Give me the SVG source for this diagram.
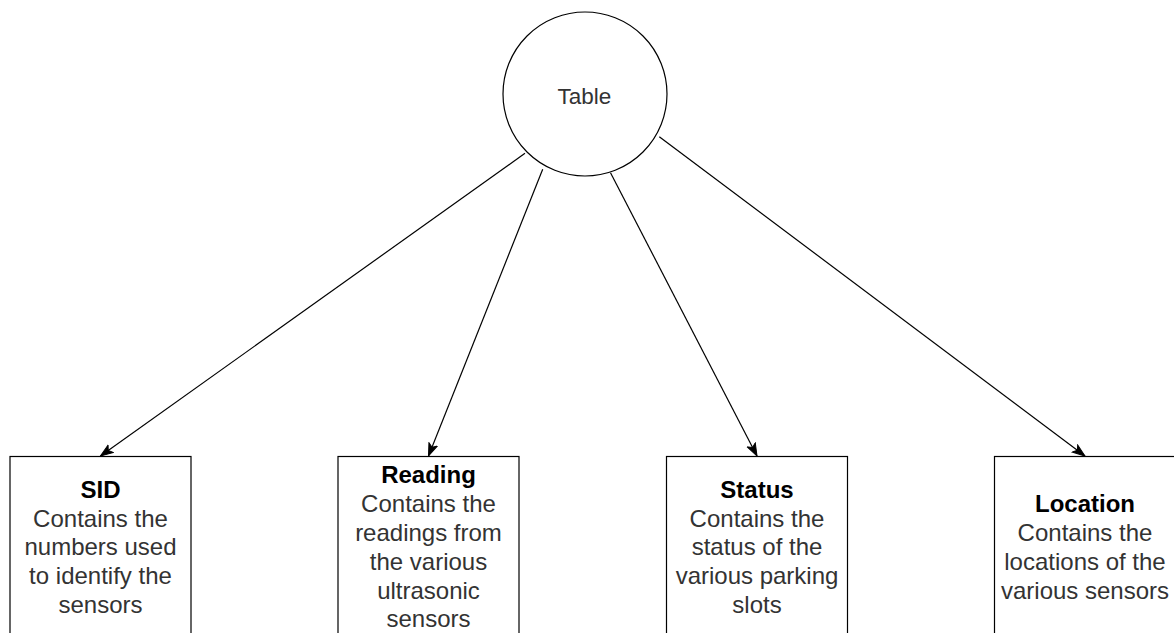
<svg xmlns="http://www.w3.org/2000/svg" width="1174" height="633" viewBox="0 0 1174 633">
<style>
.node{fill:#fff;stroke:#000;stroke-width:1.2}
.edge{fill:none;stroke:#000;stroke-width:1.2}
text{font-family:"Liberation Sans",Arial,sans-serif;font-size:24px;text-anchor:middle}
.t{font-weight:bold;fill:#000}
.b{fill:#333}
</style>
<defs>
<marker id="arr" markerUnits="userSpaceOnUse" markerWidth="14" markerHeight="12" viewBox="0 0 14 12" refX="13" refY="6" orient="auto">
<path d="M0.5,1.5 L13,6 L0.5,10.5 L3.5,6 Z" fill="#000" stroke="#000" stroke-width="1"/>
</marker>
</defs>
<rect width="1174" height="633" fill="#fff"/>
<g id="connectors">
<line class="edge" x1="525" y1="153.3" x2="100.5" y2="456" marker-end="url(#arr)"/>
<line class="edge" x1="542.7" y1="169.3" x2="428.5" y2="456" marker-end="url(#arr)"/>
<line class="edge" x1="610.5" y1="172.7" x2="757" y2="456" marker-end="url(#arr)"/>
<line class="edge" x1="659.3" y1="136.7" x2="1085" y2="456" marker-end="url(#arr)"/>
</g>
<g id="table">
<circle class="node" cx="585" cy="94" r="82"/>
<text class="b" x="584.5" y="103.5" style="font-size:22.5px">Table</text>
</g>
<g id="sid">
<rect class="node" x="10" y="456.5" width="181" height="190"/>
<text x="100.5" y="497.7"><tspan class="t">SID</tspan><tspan class="b" x="100.5" dy="28.8">Contains the</tspan><tspan class="b" x="100.5" dy="28.8">numbers used</tspan><tspan class="b" x="100.5" dy="28.8">to identify the</tspan><tspan class="b" x="100.5" dy="28.8">sensors</tspan></text>
</g>
<g id="reading">
<rect class="node" x="338" y="456.5" width="181" height="190"/>
<text x="428.5" y="483.3"><tspan class="t">Reading</tspan><tspan class="b" x="428.5" dy="28.8">Contains the</tspan><tspan class="b" x="428.5" dy="28.8">readings from</tspan><tspan class="b" x="428.5" dy="28.8">the various</tspan><tspan class="b" x="428.5" dy="28.8">ultrasonic</tspan><tspan class="b" x="428.5" dy="28.8">sensors</tspan></text>
</g>
<g id="status">
<rect class="node" x="666.5" y="456.5" width="181" height="190"/>
<text x="757" y="497.7"><tspan class="t">Status</tspan><tspan class="b" x="757" dy="28.8">Contains the</tspan><tspan class="b" x="757" dy="28.8">status of the</tspan><tspan class="b" x="757" dy="28.8">various parking</tspan><tspan class="b" x="757" dy="28.8">slots</tspan></text>
</g>
<g id="location">
<rect class="node" x="994.5" y="456.5" width="181" height="190"/>
<text x="1085" y="512.1"><tspan class="t">Location</tspan><tspan class="b" x="1085" dy="28.8">Contains the</tspan><tspan class="b" x="1085" dy="28.8">locations of the</tspan><tspan class="b" x="1085" dy="28.8">various sensors</tspan></text>
</g>
</svg>
